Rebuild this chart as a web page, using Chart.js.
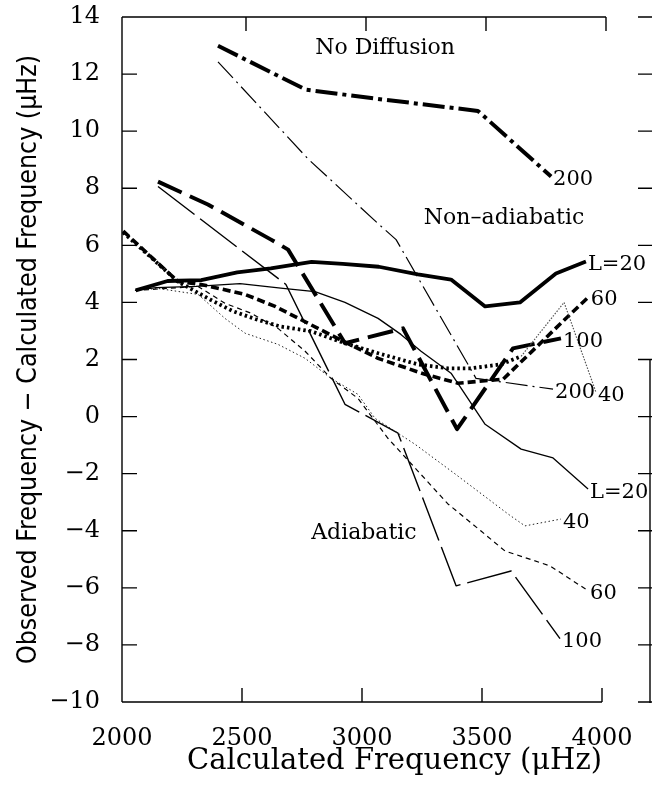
<!DOCTYPE html>
<html>
<head>
<meta charset="utf-8">
<script src="https://cdn.jsdelivr.net/npm/chart.js@4.4.1/dist/chart.umd.min.js"></script>
<style>
  html, body { margin: 0; padding: 0; background: #fff; }
  #wrap { width: 652px; height: 795px; position: relative; }
</style>
</head>
<body>
<div id="wrap"><canvas id="freq-chart"></canvas></div>
<script>
// Frequency residuals against calculated frequency, one curve per degree L
const xTicks = [2000, 2500, 3000, 3500, 4000];
const yTicks = [-10, -8, -6, -4, -2, 0, 2, 4, 6, 8, 10, 12, 14];

// No diffusion model, L=200
const noDiff200X = [2400, 2767, 3067, 3483, 3788];
const noDiff200Y = [12.99, 11.45, 11.13, 10.71, 8.41];

// Non-adiabatic models (heavy lines)
const nonAd20X = [2057, 2190, 2330, 2480, 2620, 2790, 2920, 3070, 3233, 3371, 3513, 3658, 3808, 3933];
const nonAd20Y = [4.42, 4.75, 4.78, 5.05, 5.19, 5.42, 5.35, 5.25, 4.98, 4.80, 3.86, 4.00, 5.01, 5.43];

const nonAd40X = [2005, 2233, 2367, 2463, 2558, 2658, 2788, 2929, 3067, 3233, 3358, 3454, 3579, 3663, 3842, 3975];
const nonAd40Y = [6.45, 4.73, 4.10, 3.69, 3.41, 3.16, 2.99, 2.57, 2.22, 1.83, 1.69, 1.69, 1.83, 2.11, 4.00, 0.85];

const nonAd60X = [2005, 2233, 2329, 2513, 2638, 2775, 2921, 3067, 3263, 3400, 3588, 3721, 3846, 3945];
const nonAd60Y = [6.50, 4.73, 4.63, 4.28, 3.86, 3.27, 2.64, 2.04, 1.48, 1.17, 1.31, 2.39, 3.41, 4.20];

const nonAd100X = [2150, 2358, 2621, 2692, 2929, 3171, 3396, 3629, 3829];
const nonAd100Y = [8.23, 7.43, 6.20, 5.85, 2.57, 3.09, -0.44, 2.39, 2.74];

// Adiabatic models (light lines)
const adi20X = [2054, 2142, 2308, 2492, 2671, 2804, 2929, 3067, 3162, 3246, 3371, 3513, 3663, 3796, 3942];
const adi20Y = [4.42, 4.52, 4.56, 4.66, 4.49, 4.38, 4.00, 3.44, 2.88, 2.29, 1.52, -0.27, -1.14, -1.45, -2.54];

const adi40X = [2054, 2150, 2317, 2429, 2513, 2650, 2763, 2871, 2983, 3054, 3221, 3388, 3608, 3679, 3829];
const adi40Y = [4.42, 4.49, 4.28, 3.44, 2.92, 2.53, 2.04, 1.34, 0.78, -0.06, -0.97, -2.01, -3.41, -3.83, -3.59];

const adi60X = [2054, 2317, 2429, 2538, 2650, 2763, 2871, 2983, 3108, 3221, 3358, 3496, 3596, 3783, 3942];
const adi60Y = [4.42, 4.56, 3.97, 3.62, 3.09, 2.29, 1.34, 0.64, -0.76, -1.80, -3.06, -4.01, -4.71, -5.23, -6.10];

const adi100X = [2150, 2683, 2929, 3150, 3392, 3621, 3825];
const adi100Y = [8.06, 4.63, 0.43, -0.58, -5.93, -5.41, -7.78];

const adi200X = [2400, 2775, 3067, 3142, 3475, 3796];
const adi200Y = [12.43, 9.03, 6.76, 6.20, 1.34, 0.96];

// Free text inside the plot: [text, x, y]
const notes = [
  ['No Diffusion', 3096, 12.9],
  ['Non\u2013adiabatic', 3592, 6.94],
  ['Adiabatic', 3008, -4.08]
];

const serif = '"DejaVu Serif", "Liberation Serif", serif';

function pts(xs, ys) {
  return xs.map((x, i) => ({ x: x, y: ys[i] }));
}

function series(xs, ys, label, width, dash, extra) {
  return Object.assign({
    data: pts(xs, ys),
    endLabel: label,
    borderColor: '#000',
    borderWidth: width,
    borderDash: dash,
    borderJoinStyle: 'round',
    pointRadius: 0,
    tension: 0,
    fill: false
  }, extra || {});
}

const datasets = [
  series(noDiff200X, noDiff200Y, '200', 4, [22, 5, 4, 5]),
  series(nonAd20X, nonAd20Y, 'L=20', 3.8, []),
  series(nonAd40X, nonAd40Y, '40', 3.8, [2.5, 3], {
    // the tail of this curve was printed with a fine dotted pen
    segment: {
      borderWidth: ctx => ctx.p0DataIndex >= 13 ? 1.2 : undefined,
      borderColor: ctx => ctx.p0DataIndex >= 13 ? '#555' : undefined,
      borderDash: ctx => ctx.p0DataIndex >= 13 ? [1.5, 1.5] : undefined
    }
  }),
  series(nonAd60X, nonAd60Y, '60', 3.6, [8, 4]),
  series(nonAd100X, nonAd100Y, '100', 4, [26, 9]),
  series(adi20X, adi20Y, 'L=20', 1.3, []),
  series(adi40X, adi40Y, '40', 1, [1.5, 2.5], { borderColor: '#222' }),
  series(adi60X, adi60Y, '60', 1.2, [5, 4]),
  series(adi100X, adi100Y, '100', 1.4, [46, 7]),
  series(adi200X, adi200Y, '200', 1.2, [22, 5, 2, 5])
];

// Box with inward ticks, plus the separate right-hand axis strip
const frameTicks = {
  id: 'frameTicks',
  afterDraw(chart) {
    const ctx = chart.ctx;
    const a = chart.chartArea;
    const xs = chart.scales.x;
    const ys = chart.scales.y;
    const tick = 14;
    const rightX = a.right + 48;
    ctx.save();
    ctx.strokeStyle = '#000';
    ctx.lineWidth = 1.4;
    ctx.beginPath();
    ctx.moveTo(a.left, a.top);
    ctx.lineTo(a.left, a.bottom);
    ctx.moveTo(a.left, a.top);
    ctx.lineTo(a.right + 4, a.top);
    ctx.moveTo(a.left, a.bottom);
    ctx.lineTo(a.right, a.bottom);
    xTicks.slice(1).forEach(v => {
      const px = xs.getPixelForValue(v);
      ctx.moveTo(px, a.bottom);
      ctx.lineTo(px, a.bottom - tick);
      ctx.moveTo(px + 4, a.top);
      ctx.lineTo(px + 4, a.top + tick);
    });
    yTicks.forEach(v => {
      const py = ys.getPixelForValue(v);
      ctx.moveTo(a.left, py);
      ctx.lineTo(a.left + tick + 1, py);
      ctx.moveTo(rightX + 2, py);
      ctx.lineTo(rightX - 12, py);
    });
    ctx.moveTo(rightX, ys.getPixelForValue(2));
    ctx.lineTo(rightX, a.bottom + 1);
    ctx.stroke();
    ctx.restore();
  }
};

// Curve names at the end of each line, and the free text notes
const curveLabels = {
  id: 'curveLabels',
  afterDatasetsDraw(chart) {
    const ctx = chart.ctx;
    ctx.save();
    ctx.fillStyle = '#000';
    ctx.font = '21px ' + serif;
    ctx.textAlign = 'left';
    ctx.textBaseline = 'middle';
    chart.data.datasets.forEach((ds, i) => {
      const meta = chart.getDatasetMeta(i);
      const last = meta.data[meta.data.length - 1];
      ctx.fillText(ds.endLabel, last.x + 2, last.y + 3);
    });
    ctx.font = '22px ' + serif;
    ctx.textAlign = 'center';
    notes.forEach(n => {
      ctx.fillText(n[0], chart.scales.x.getPixelForValue(n[1]), chart.scales.y.getPixelForValue(n[2]));
    });
    ctx.restore();
  }
};

new Chart(document.getElementById('freq-chart'), {
  type: 'line',
  data: { datasets: datasets },
  options: {
    responsive: true,
    maintainAspectRatio: false,
    animation: false,
    events: [],
    layout: { padding: { top: 17, right: 50, left: 0, bottom: 0 } },
    plugins: {
      legend: { display: false },
      tooltip: { enabled: false }
    },
    scales: {
      x: {
        type: 'linear',
        min: 2000,
        max: 4000,
        afterBuildTicks: s => { s.ticks = xTicks.map(v => ({ value: v })); },
        afterFit: s => { s.height = 93; s.paddingLeft = 0; s.paddingRight = 0; },
        grid: { display: false, drawTicks: false },
        border: { display: false },
        ticks: {
          color: '#000',
          padding: 22,
          maxRotation: 0,
          font: { family: serif, size: 24 },
          callback: v => String(v)
        },
        title: {
          display: true,
          text: 'Calculated Frequency (\u03bcHz)',
          align: 'end',
          color: '#000',
          padding: { top: 0, bottom: 16 },
          font: { family: serif, size: 29 }
        }
      },
      y: {
        min: -10,
        max: 14,
        afterBuildTicks: s => { s.ticks = yTicks.map(v => ({ value: v })); },
        // labels may hang past the plot box; keep the box where it is
        afterFit: s => { s.width = 122; s.paddingTop = 0; s.paddingBottom = 0; },
        grid: { display: false, drawTicks: false },
        border: { display: false },
        ticks: {
          color: '#000',
          padding: 22,
          font: { family: serif, size: 24 },
          callback: v => v < 0 ? '\u2212' + Math.abs(v) : String(v)
        },
        title: {
          display: true,
          text: 'Observed Frequency \u2212 Calculated Frequency (\u03bcHz)',
          color: '#000',
          padding: { top: 13, bottom: 0 },
          font: { family: '"Liberation Sans Narrow", "DejaVu Sans Condensed", sans-serif', size: 26.5 }
        }
      }
    }
  },
  plugins: [frameTicks, curveLabels]
});
</script>
</body>
</html>
